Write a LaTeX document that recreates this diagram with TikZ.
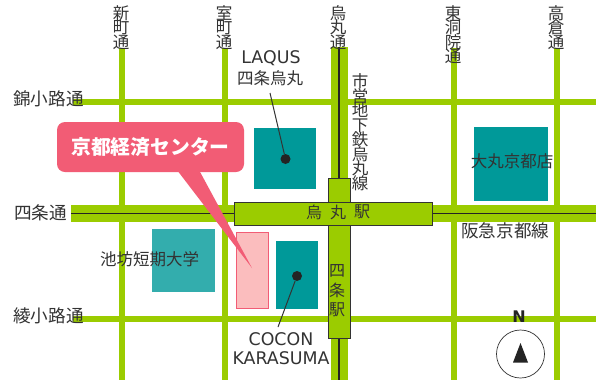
\documentclass[tikz,border=0pt]{standalone}
\usepackage{fontspec}
\setmainfont{DejaVu Sans}
\newfontfamily\cjk{Noto Sans CJK JP}
\definecolor{road}{HTML}{9BCC00}
\definecolor{teal1}{HTML}{009999}
\definecolor{teal2}{HTML}{33ADAD}
\definecolor{ink}{HTML}{333333}
\definecolor{callout}{HTML}{F25C75}
\definecolor{pinkfill}{HTML}{FBBDBE}
\lineskiplimit=-100pt
\tikzset{
 x=1pt,y=-1pt,
 thinroad/.style={draw=road,line width=6pt},
 wideroad/.style={draw=road,line width=17pt},
 railline/.style={draw=ink!70!black,line width=1.6pt},
 stationbox/.style={draw=ink,line width=1pt,fill=road,inner sep=0pt},
 building/.style={fill=teal1,inner sep=0pt,draw=none},
 label/.style={text=ink,inner sep=0pt,font=\cjk\fontsize{17.6}{17.6}\selectfont},
 vlabel/.style={text=ink,inner sep=0pt,align=center,font=\cjk\fontsize{16.5}{14.5}\selectfont},
 latin/.style={text=ink,inner sep=0pt,align=center,font=\fontsize{17.4}{19}\selectfont},
 leader/.style={draw=ink,line width=1pt},
 dot/.style={circle,fill=ink!70!black,minimum size=10pt,inner sep=0pt},
}
\newcommand{\bx}[6][]{\node[#1,minimum width=#4pt-#2pt,minimum height=#5pt-#3pt,anchor=north west] (#6) at (#2,#3) {};}
\begin{document}
\begin{tikzpicture}
\useasboundingbox (0,0) rectangle (597,381);
\fill[white] (0,0) rectangle (597,381);
% roads
\draw[thinroad] (121.5,48) -- (121.5,380);
\draw[thinroad] (224.5,48) -- (224.5,380);
\draw[thinroad] (454,48) -- (454,380);
\draw[thinroad] (557,48) -- (557,380);
\draw[thinroad] (73,102) -- (596,102);
\draw[thinroad] (73,319) -- (596,319);
\draw[wideroad] (339,47) -- (339,380);
\draw[wideroad] (71,213.5) -- (596,213.5);
% end points of the rail lines
\coordinate (railN) at (339,47);
\coordinate (railS) at (339,380);
\coordinate (railW) at (71,213.5);
\coordinate (railE) at (596,213.5);
% stations
\node[stationbox,minimum width=22pt,minimum height=160pt] (shijo) at (339,258) {};
\node[stationbox,minimum width=198pt,minimum height=23pt] (karasuma) at (333,213.5) {};
\draw[railline] (railN) -- (shijo.north);
\draw[railline] (shijo.south) -- (railS);
\draw[railline] (railW) -- (karasuma.west);
\draw[railline] (karasuma.east) -- (railE);
\fill[road] (329,203) rectangle (349.5,224.5);
% buildings
\bx[building]{254}{128}{316}{189}{laqusb}
\bx[building]{474}{127}{548}{201}{daimaru}
\bx[building,fill=teal2]{152}{229}{215}{292}{ikenobo}
\bx[building]{276}{241}{318}{309}{coconb}
\bx[draw=callout,fill=pinkfill,line width=1pt,inner sep=0pt]{235.5}{232}{268}{308}{kyokei}
% callout
\fill[callout] (177,170) -- (199,170) -- (252,268) -- cycle;
\node[fill=callout,rounded corners=8pt,minimum width=187pt,minimum height=50pt,inner sep=0pt,text=white,
 font=\cjk\bfseries\fontsize{19.8}{20}\selectfont] (title) at (150.5,147) {京都経済センター};
% road names
\node[vlabel] (n1) at (121,27.5) {新\\町\\通};
\node[vlabel] (n2) at (224,27.5) {室\\町\\通};
\node[vlabel] (n3) at (338,27.5) {烏\\丸\\通};
\node[vlabel] (n4) at (453,34.5) {東\\洞\\院\\通};
\node[vlabel] (n5) at (556,27.5) {高\\倉\\通};
\node[vlabel] (subway) at (360,132) {市\\営\\地\\下\\鉄\\烏\\丸\\線};
\node[label,anchor=west] (h1) at (13,99) {錦小路通};
\node[label,anchor=west] (h2) at (14,213) {四条通};
\node[label,anchor=west] (h3) at (13,315.5) {綾小路通};
\node[label,anchor=west] (hankyu) at (461,231) {阪急京都線};
% buildings' names
\node[label,font=\cjk\fontsize{16.5}{16.5}\selectfont] (daimarut) at (512,161) {大丸京都店};
\node[label,font=\cjk\fontsize{16.5}{16.5}\selectfont] (ikenobot) at (149.5,259) {池坊短期大学};
% station names
\node[label,font=\cjk\fontsize{16}{16}\selectfont] (k1) at (314,212) {烏};
\node[label,font=\cjk\fontsize{16}{16}\selectfont] (k2) at (338,212) {丸};
\node[label,font=\cjk\fontsize{16}{16}\selectfont] (k3) at (362,212) {駅};
\node[label,font=\cjk\fontsize{16}{16}\selectfont] (s1) at (337,271) {四};
\node[label,font=\cjk\fontsize{16}{16}\selectfont] (s2) at (337,290.5) {条};
\node[label,font=\cjk\fontsize{16}{16}\selectfont] (s3) at (337,309.5) {駅};
% leaders
\node[latin] (laqus) at (271,58) {LAQUS};
\node[label,font=\cjk\fontsize{16.5}{16.5}\selectfont] (laqusj) at (270,78.5) {四条烏丸};
\node[dot] (laqusdot) at (285.5,159) {};
\coordinate (laqusend) at (270,93);
\draw[leader] (laqusend) -- (laqusdot);
\node[latin] (cocon) at (281,349) {COCON\\KARASUMA};
\node[dot] (cocondot) at (297,276) {};
\coordinate (coconend) at (278,327);
\draw[leader] (coconend) -- (cocondot);
% compass
\node[circle,draw=ink,line width=0.7pt,fill=white,minimum size=48pt,inner sep=0pt] (compass) at (520.5,354) {};
\fill[ink!70!black] (520.5,343) -- (528,362.5) -- (513,362.5) -- cycle;
\node[text=ink!70!black,inner sep=0pt,font=\bfseries\fontsize{16}{16}\selectfont] (north) at (519,316.5) {N};
\end{tikzpicture}
\end{document}
